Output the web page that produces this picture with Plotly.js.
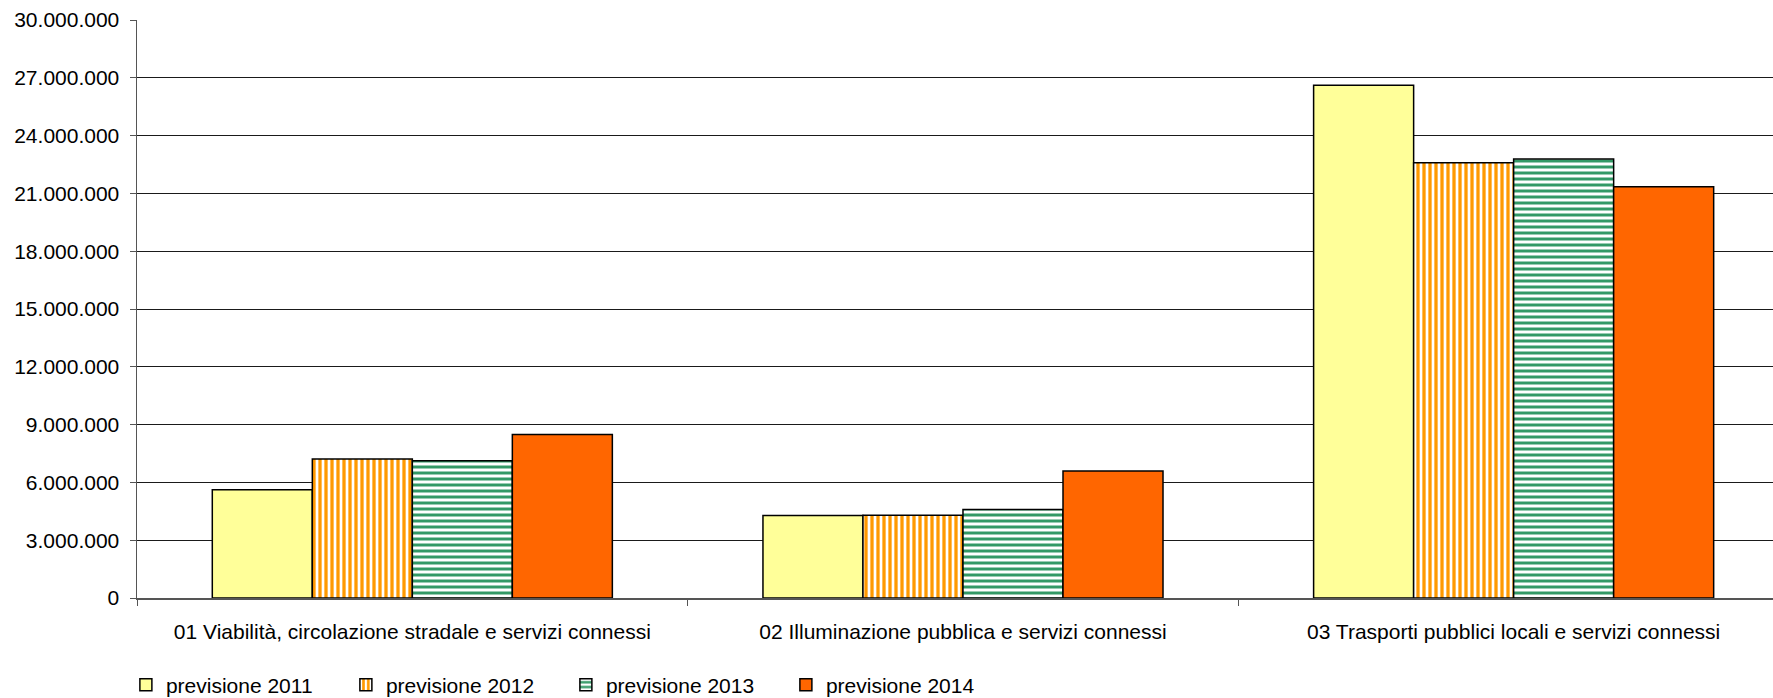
<!DOCTYPE html>
<html>
<head>
<meta charset="utf-8">
<script src="https://cdn.plot.ly/plotly-3.0.1.min.js"></script>
<style>
  html, body { margin: 0; padding: 0; background: #ffffff; overflow: hidden; }
  #chart { width: 1773px; height: 698px; }
</style>
</head>
<body>
<div id="chart"></div>
<script>
const categories = [
  "01 Viabilità, circolazione stradale e servizi connessi",
  "02 Illuminazione pubblica e servizi connessi",
  "03 Trasporti pubblici locali e servizi connessi"
];
const seriesNames = ["previsione 2011", "previsione 2012", "previsione 2013", "previsione 2014"];
const prev2011 = [5620000, 4280000, 26610000];
const prev2012 = [7220000, 4300000, 22590000];
const prev2013 = [7130000, 4590000, 22780000];
const prev2014 = [8490000, 6590000, 21340000];
const yTickVals = [0, 3000000, 6000000, 9000000, 12000000, 15000000, 18000000, 21000000, 24000000, 27000000, 30000000];

const FONT = "Liberation Sans, Arial, sans-serif";
const outline = { color: "#000000", width: 1.5 };

const traces = [
  {
    type: "bar", name: seriesNames[0], x: categories, y: prev2011,
    marker: { color: "#FFFF99", line: outline }
  },
  {
    type: "bar", name: seriesNames[1], x: categories, y: prev2012,
    marker: {
      color: "#FF9900", line: outline,
      pattern: { shape: "|", fgcolor: "#FF9900", bgcolor: "#FFFFFF", size: 6, solidity: 0.55, fillmode: "replace" }
    }
  },
  {
    type: "bar", name: seriesNames[2], x: categories, y: prev2013,
    marker: {
      color: "#339966", line: outline,
      pattern: { shape: "-", fgcolor: "#339966", bgcolor: "#FFFFFF", size: 6, solidity: 0.5, fillmode: "replace" }
    }
  },
  {
    type: "bar", name: seriesNames[3], x: categories, y: prev2014,
    marker: { color: "#FF6600", line: outline }
  }
];

const layout = {
  width: 1773, height: 698,
  margin: { l: 137, r: 0, t: 20, b: 100, pad: 0 },
  paper_bgcolor: "#ffffff", plot_bgcolor: "#ffffff",
  font: { family: FONT, size: 21, color: "#000000" },
  separators: ",.",
  barmode: "group",
  bargap: 0.2735,
  bargroupgap: 0,
  showlegend: true,
  legend: {
    orientation: "h",
    xref: "container", yref: "container",
    x: 0.071, y: 1 - 685 / 698,
    xanchor: "left", yanchor: "middle",
    entrywidth: 175, entrywidthmode: "pixels",
    traceorder: "normal",
    font: { family: FONT, size: 21, color: "#000000" },
    bgcolor: "rgba(0,0,0,0)"
  },
  xaxis: {
    type: "category",
    range: [-0.5, 2.471],
    showgrid: false,
    showline: true, linecolor: "#555555", linewidth: 1.5,
    ticks: "outside", tickson: "boundaries", ticklen: 6, tickcolor: "#555555", tickwidth: 1,
    ticklabelstandoff: 14,
    tickfont: { family: FONT, size: 21, color: "#000000" },
    zeroline: false,
    fixedrange: true
  },
  yaxis: {
    range: [0, 30000000],
    tickvals: yTickVals,
    tickformat: ",d",
    showgrid: true, gridcolor: "#1a1a1a", gridwidth: 1,
    showline: true, linecolor: "#555555", linewidth: 1.5,
    ticks: "outside", ticklen: 6, tickcolor: "#555555", tickwidth: 1,
    ticklabelstandoff: 6,
    tickfont: { family: FONT, size: 21, color: "#000000" },
    zeroline: false,
    fixedrange: true
  }
};

Plotly.newPlot("chart", traces, layout, { staticPlot: true, displayModeBar: false });
</script>
</body>
</html>
